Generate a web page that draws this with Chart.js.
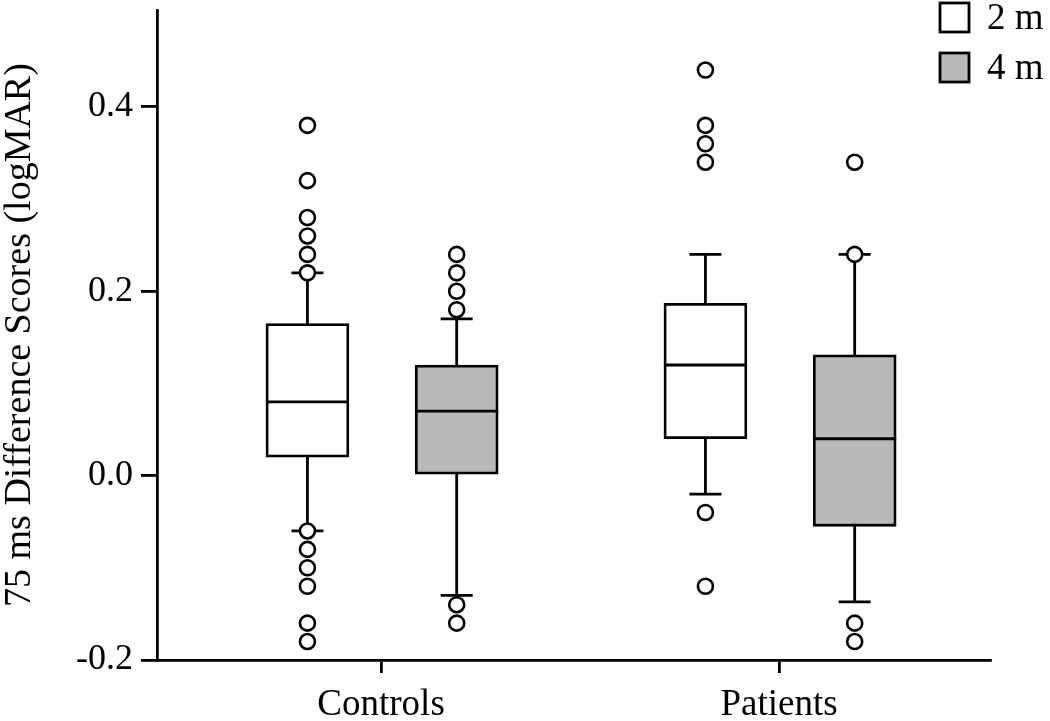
<!DOCTYPE html>
<html>
<head>
<meta charset="utf-8">
<script src="https://cdn.jsdelivr.net/npm/chart.js@4.4.0/dist/chart.umd.min.js"></script>
<style>
  html, body { margin: 0; padding: 0; background: #fff; }
  #wrap { width: 1050px; height: 721px; }
</style>
</head>
<body>
<div id="wrap"><canvas id="boxChart"></canvas></div>
<script>
// categories, series and tick labels
const categories = ['Controls', 'Patients'];
const seriesNames = ['2 m', '4 m'];
const yTicks = [-0.2, 0.0, 0.2, 0.4];

// box statistics (one value per category)
const low2m = [-0.06, -0.02];
const q1_2m = [0.02, 0.04];
const median2m = [0.08, 0.12];
const q3_2m = [0.165, 0.187];
const high2m = [0.22, 0.24];

const low4m = [-0.13, -0.137];
const q1_4m = [0.0, -0.055];
const median4m = [0.07, 0.04];
const q3_4m = [0.12, 0.131];
const high4m = [0.17, 0.24];

// outliers, one list per category
const outliers2m = [
    [0.38, 0.32, 0.28, 0.26, 0.24, 0.22, -0.06, -0.08, -0.10, -0.12, -0.16, -0.18],
    [0.44, 0.38, 0.36, 0.34, -0.04, -0.12]
];
const outliers4m = [
    [0.24, 0.22, 0.20, 0.18, -0.14, -0.16],
    [0.34, 0.24, -0.16, -0.18]
];

// box sits left / right of the category tick
const SHIFT_2M = -0.185;
const SHIFT_4M = 0.19;
const CAP = 16; // half width of whisker caps, px
const LINE = 2.8;
const FONT = 'Liberation Serif';

const groups = [
    {name: seriesNames[0], shift: SHIFT_2M, low: low2m, q1: q1_2m, med: median2m, q3: q3_2m, high: high2m, fill: '#ffffff'},
    {name: seriesNames[1], shift: SHIFT_4M, low: low4m, q1: q1_4m, med: median4m, q3: q3_4m, high: high4m, fill: '#b9b9b9'}
];

function outlierPoints(list, shift) {
    const pts = [];
    list.forEach((vals, i) => vals.forEach(v => pts.push({x: i + 1 + shift, y: v})));
    return pts;
}

// whiskers under the boxes, medians and legend on top
const boxParts = {
    id: 'boxParts',
    beforeDatasetsDraw(chart) {
        const {ctx, scales: {x, y}} = chart;
        ctx.save();
        ctx.strokeStyle = '#000';
        ctx.lineWidth = LINE;
        groups.forEach(g => {
            categories.forEach((c, i) => {
                const px = x.getPixelForValue(i + 1 + g.shift);
                const top = y.getPixelForValue(g.high[i]);
                const bot = y.getPixelForValue(g.low[i]);
                ctx.beginPath();
                ctx.moveTo(px, top); ctx.lineTo(px, bot);
                ctx.moveTo(px - CAP, top); ctx.lineTo(px + CAP, top);
                ctx.moveTo(px - CAP, bot); ctx.lineTo(px + CAP, bot);
                ctx.stroke();
            });
        });
        ctx.restore();
    },
    afterDatasetsDraw(chart) {
        const {ctx, scales: {y}} = chart;
        ctx.save();
        ctx.strokeStyle = '#000';
        ctx.lineWidth = LINE;
        groups.forEach((g, gi) => {
            const meta = chart.getDatasetMeta(2 + gi);
            meta.data.forEach((bar, i) => {
                const py = y.getPixelForValue(g.med[i]);
                ctx.beginPath();
                ctx.moveTo(bar.x - bar.width / 2, py);
                ctx.lineTo(bar.x + bar.width / 2, py);
                ctx.stroke();
            });
        });
        ctx.restore();
    },
    afterDraw(chart) {
        // legend, top right corner
        const ctx = chart.ctx;
        ctx.save();
        ctx.font = '37px "' + FONT + '"';
        ctx.textBaseline = 'middle';
        ctx.textAlign = 'left';
        groups.forEach((g, gi) => {
            const top = 3 + gi * 50;
            ctx.fillStyle = g.fill;
            ctx.fillRect(940, top, 29, 29);
            ctx.strokeStyle = '#000';
            ctx.lineWidth = LINE;
            ctx.strokeRect(940, top, 29, 29);
            ctx.fillStyle = '#000';
            ctx.fillText(g.name, 987, top + 16);
        });
        ctx.restore();
    }
};

Chart.defaults.font.family = FONT;
Chart.defaults.color = '#000';

new Chart(document.getElementById('boxChart'), {
    type: 'bar',
    data: {
        datasets: [
            {
                type: 'scatter', label: '2 m outliers',
                data: outlierPoints(outliers2m, SHIFT_2M),
                pointRadius: 7.5, pointBackgroundColor: '#fff',
                pointBorderColor: '#000', pointBorderWidth: 2.6
            },
            {
                type: 'scatter', label: '4 m outliers',
                data: outlierPoints(outliers4m, SHIFT_4M),
                pointRadius: 7.5, pointBackgroundColor: '#fff',
                pointBorderColor: '#000', pointBorderWidth: 2.6
            },
            ...groups.map(g => ({
                type: 'bar', label: g.name,
                data: categories.map((c, i) => ({x: i + 1 + g.shift, y: [g.q1[i], g.q3[i]]})),
                backgroundColor: g.fill, borderColor: '#000', borderWidth: LINE,
                borderSkipped: false, barThickness: 83, grouped: false
            }))
        ]
    },
    options: {
        responsive: true,
        maintainAspectRatio: false,
        animation: false,
        events: [],
        layout: {padding: {top: 3, right: 60, left: 0, bottom: 0}},
        plugins: {legend: {display: false}, tooltip: {enabled: false}},
        scales: {
            x: {
                type: 'linear', min: 0.437, max: 2.530, offset: false,
                afterBuildTicks: s => { s.ticks = categories.map((c, i) => ({value: i + 1})); },
                afterFit: s => { s.height = 61; s.paddingLeft = 0; s.paddingRight = 0; },
                ticks: {
                    callback: (v) => categories[Math.round(v) - 1],
                    font: {size: 37}, padding: 10, maxRotation: 0, autoSkip: false
                },
                grid: {display: true, offset: false, drawOnChartArea: false, drawTicks: true, tickLength: 13, color: '#000', lineWidth: LINE},
                border: {display: true, color: '#000', width: LINE}
            },
            y: {
                type: 'linear', min: -0.2, max: 0.505,
                afterBuildTicks: s => { s.ticks = yTicks.map(v => ({value: v})); },
                afterFit: s => { s.width = 157; s.paddingTop = 0; s.paddingBottom = 0; },
                ticks: {
                    callback: v => v.toFixed(1),
                    font: {size: 36}, padding: 8
                },
                title: {
                    display: true, text: '75 ms Difference Scores (logMAR)',
                    font: {size: 38, lineHeight: 1.05}, padding: {top: 0, bottom: 0}
                },
                grid: {display: true, drawOnChartArea: false, drawTicks: true, tickLength: 16, color: '#000', lineWidth: LINE},
                border: {display: true, color: '#000', width: LINE}
            }
        }
    },
    plugins: [boxParts]
});
</script>
</body>
</html>
